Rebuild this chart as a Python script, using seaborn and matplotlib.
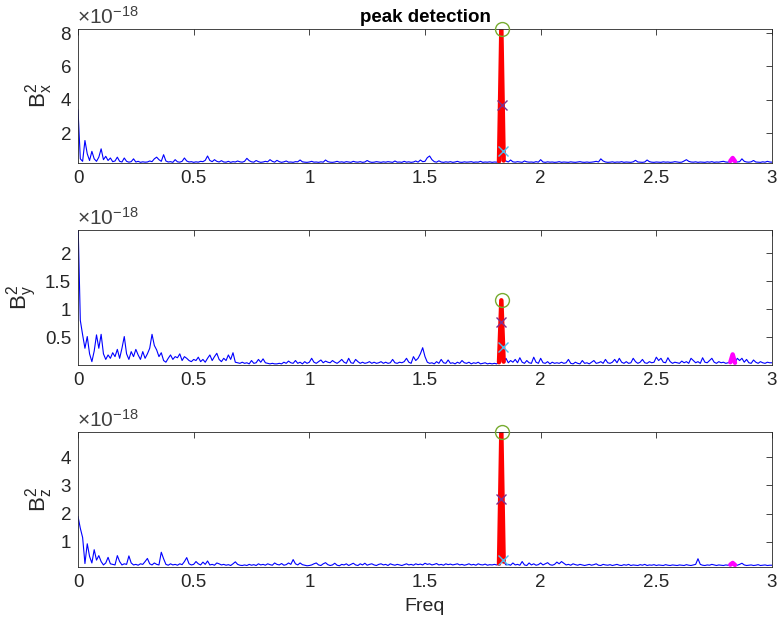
import numpy as np
import matplotlib
matplotlib.use("Agg")
import matplotlib.pyplot as plt
import seaborn as sns
from matplotlib.ticker import FuncFormatter

# ---------------- data (values in units of 1e-18) ----------------
freq = [round(i * 0.01, 2) for i in range(301)]

bx = [
    3.40, 0.45, 0.30, 1.55, 0.75, 0.35, 0.90, 0.45, 0.30, 0.55,
    1.05, 0.40, 0.60, 0.35, 0.50, 0.28, 0.32, 0.55, 0.30, 0.26,
    0.50, 0.30, 0.25, 0.28, 0.45, 0.26, 0.30, 0.24, 0.27, 0.25,
    0.26, 0.32, 0.28, 0.45, 0.55, 0.40, 0.30, 0.70, 0.32, 0.26,
    0.28, 0.24, 0.40, 0.27, 0.25, 0.30, 0.50, 0.32, 0.26, 0.28,
    0.24, 0.27, 0.25, 0.30, 0.28, 0.36, 0.62, 0.35, 0.28, 0.40,
    0.30, 0.26, 0.34, 0.26, 0.25, 0.30, 0.24, 0.28, 0.26, 0.32,
    0.27, 0.25, 0.30, 0.48, 0.34, 0.27, 0.25, 0.35, 0.28, 0.24,
    0.26, 0.30, 0.27, 0.40, 0.30, 0.25, 0.36, 0.28, 0.24, 0.27,
    0.32, 0.25, 0.26, 0.24, 0.28, 0.27, 0.38, 0.27, 0.25, 0.24,
    0.26, 0.30, 0.25, 0.26, 0.24, 0.27, 0.25, 0.38, 0.28, 0.25,
    0.24, 0.26, 0.30, 0.25, 0.27, 0.24, 0.28, 0.26, 0.24, 0.30,
    0.26, 0.25, 0.28, 0.24, 0.26, 0.35, 0.27, 0.24, 0.25, 0.28,
    0.26, 0.24, 0.27, 0.25, 0.28, 0.26, 0.24, 0.32, 0.25, 0.26,
    0.24, 0.30, 0.25, 0.27, 0.24, 0.26, 0.32, 0.25, 0.38, 0.28,
    0.30, 0.52, 0.62, 0.40, 0.28, 0.25, 0.33, 0.26, 0.24, 0.27,
    0.25, 0.28, 0.24, 0.26, 0.30, 0.25, 0.24, 0.27, 0.25, 0.26,
    0.28, 0.24, 0.26, 0.25, 0.30, 0.24, 0.26, 0.25, 0.27, 0.24,
    0.26, 0.25, 0.30, 8.24, 0.35, 0.32, 0.26, 0.38, 0.27, 0.25,
    0.28, 0.26, 0.24, 0.32, 0.27, 0.25, 0.26, 0.24, 0.28, 0.25,
    0.40, 0.26, 0.24, 0.27, 0.25, 0.26, 0.24, 0.25, 0.28, 0.24,
    0.26, 0.25, 0.24, 0.27, 0.25, 0.24, 0.26, 0.28, 0.25, 0.24,
    0.26, 0.24, 0.25, 0.27, 0.30, 0.26, 0.45, 0.32, 0.26, 0.24,
    0.25, 0.27, 0.24, 0.26, 0.25, 0.28, 0.24, 0.26, 0.25, 0.24,
    0.27, 0.36, 0.26, 0.25, 0.24, 0.26, 0.38, 0.28, 0.25, 0.24,
    0.26, 0.25, 0.24, 0.27, 0.25, 0.26, 0.24, 0.25, 0.28, 0.26,
    0.24, 0.25, 0.32, 0.40, 0.30, 0.26, 0.25, 0.27, 0.24, 0.26,
    0.25, 0.24, 0.27, 0.25, 0.28, 0.24, 0.26, 0.25, 0.28, 0.30,
    0.26, 0.25, 0.32, 0.50, 0.30, 0.26, 0.28, 0.45, 0.30, 0.26,
    0.25, 0.27, 0.35, 0.26, 0.25, 0.24, 0.27, 0.25, 0.30, 0.26,
    0.25,
]

by = [
    2.60, 0.80, 0.54, 0.30, 0.51, 0.20, 0.06, 0.25, 0.54, 0.30,
    0.55, 0.20, 0.10, 0.18, 0.12, 0.22, 0.15, 0.28, 0.12, 0.30,
    0.51, 0.20, 0.10, 0.24, 0.15, 0.28, 0.18, 0.10, 0.24, 0.12,
    0.20, 0.30, 0.55, 0.35, 0.27, 0.15, 0.22, 0.08, 0.05, 0.12,
    0.18, 0.10, 0.15, 0.13, 0.20, 0.08, 0.15, 0.12, 0.08, 0.06,
    0.10, 0.08, 0.14, 0.06, 0.10, 0.05, 0.12, 0.18, 0.08, 0.15,
    0.21, 0.10, 0.06, 0.12, 0.08, 0.18, 0.10, 0.22, 0.05, 0.04,
    0.03, 0.05, 0.03, 0.04, 0.02, 0.08, 0.03, 0.04, 0.10, 0.05,
    0.11, 0.04, 0.03, 0.02, 0.03, 0.02, 0.02, 0.03, 0.02, 0.05,
    0.03, 0.07, 0.04, 0.03, 0.08, 0.03, 0.05, 0.02, 0.06, 0.03,
    0.05, 0.12, 0.05, 0.03, 0.06, 0.09, 0.04, 0.07, 0.05, 0.04,
    0.08, 0.05, 0.03, 0.06, 0.10, 0.05, 0.03, 0.12, 0.04, 0.03,
    0.10, 0.06, 0.03, 0.05, 0.03, 0.04, 0.06, 0.03, 0.05, 0.03,
    0.04, 0.06, 0.03, 0.05, 0.03, 0.04, 0.10, 0.04, 0.03, 0.05,
    0.04, 0.06, 0.12, 0.05, 0.03, 0.15, 0.08, 0.12, 0.20, 0.31,
    0.15, 0.05, 0.03, 0.04, 0.02, 0.06, 0.03, 0.10, 0.04, 0.03,
    0.09, 0.03, 0.04, 0.02, 0.05, 0.03, 0.08, 0.04, 0.03, 0.05,
    0.02, 0.04, 0.03, 0.05, 0.02, 0.03, 0.04, 0.02, 0.03, 0.02,
    0.03, 0.02, 0.05, 1.16, 0.06, 0.12, 0.04, 0.08, 0.05, 0.10,
    0.04, 0.13, 0.05, 0.03, 0.08, 0.04, 0.03, 0.14, 0.05, 0.03,
    0.12, 0.04, 0.03, 0.06, 0.02, 0.05, 0.03, 0.04, 0.03, 0.05,
    0.03, 0.04, 0.10, 0.03, 0.02, 0.05, 0.03, 0.02, 0.08, 0.03,
    0.04, 0.02, 0.05, 0.08, 0.03, 0.04, 0.06, 0.03, 0.10, 0.04,
    0.03, 0.05, 0.10, 0.04, 0.12, 0.05, 0.03, 0.06, 0.03, 0.04,
    0.12, 0.06, 0.03, 0.05, 0.10, 0.04, 0.03, 0.06, 0.04, 0.05,
    0.14, 0.08, 0.12, 0.05, 0.04, 0.13, 0.06, 0.03, 0.05, 0.04,
    0.03, 0.07, 0.04, 0.06, 0.03, 0.12, 0.08, 0.04, 0.06, 0.03,
    0.13, 0.05, 0.04, 0.08, 0.12, 0.05, 0.03, 0.06, 0.04, 0.05,
    0.03, 0.04, 0.05, 0.19, 0.04, 0.12, 0.08, 0.12, 0.05, 0.10,
    0.04, 0.03, 0.09, 0.05, 0.03, 0.06, 0.04, 0.03, 0.05, 0.04,
    0.04,
]

bz = [
    1.90, 1.48, 1.15, 0.23, 0.93, 0.48, 0.25, 0.72, 0.35, 0.51,
    0.30, 0.18, 0.25, 0.45, 0.22, 0.20, 0.18, 0.51, 0.30, 0.18,
    0.22, 0.20, 0.50, 0.25, 0.18, 0.20, 0.17, 0.22, 0.20, 0.30,
    0.41, 0.22, 0.18, 0.25, 0.20, 0.18, 0.63, 0.40, 0.20, 0.17,
    0.22, 0.18, 0.20, 0.17, 0.22, 0.19, 0.30, 0.44, 0.22, 0.18,
    0.20, 0.30, 0.22, 0.18, 0.28, 0.20, 0.32, 0.18, 0.20, 0.17,
    0.25, 0.22, 0.18, 0.20, 0.17, 0.19, 0.16, 0.22, 0.29, 0.20,
    0.17, 0.16, 0.18, 0.16, 0.20, 0.17, 0.19, 0.16, 0.22, 0.18,
    0.20, 0.17, 0.22, 0.19, 0.17, 0.25, 0.20, 0.18, 0.23, 0.17,
    0.19, 0.25, 0.20, 0.37, 0.22, 0.18, 0.25, 0.19, 0.17, 0.15,
    0.16, 0.18, 0.22, 0.25, 0.18, 0.16, 0.22, 0.26, 0.19, 0.16,
    0.18, 0.24, 0.17, 0.15, 0.20, 0.18, 0.22, 0.16, 0.20, 0.24,
    0.18, 0.16, 0.22, 0.18, 0.24, 0.17, 0.20, 0.22, 0.18, 0.16,
    0.20, 0.22, 0.18, 0.20, 0.16, 0.22, 0.19, 0.17, 0.20, 0.18,
    0.16, 0.19, 0.22, 0.18, 0.20, 0.17, 0.22, 0.19, 0.21, 0.18,
    0.24, 0.20, 0.22, 0.18, 0.20, 0.23, 0.18, 0.20, 0.17, 0.22,
    0.19, 0.21, 0.18, 0.20, 0.22, 0.18, 0.20, 0.17, 0.19, 0.22,
    0.18, 0.20, 0.17, 0.22, 0.19, 0.18, 0.21, 0.17, 0.19, 0.18,
    0.20, 0.18, 0.22, 4.89, 0.30, 0.18, 0.20, 0.17, 0.25, 0.18,
    0.20, 0.17, 0.30, 0.18, 0.16, 0.25, 0.18, 0.22, 0.17, 0.19,
    0.25, 0.18, 0.22, 0.26, 0.19, 0.17, 0.20, 0.28, 0.22, 0.30,
    0.24, 0.18, 0.20, 0.17, 0.22, 0.19, 0.17, 0.20, 0.18, 0.16,
    0.18, 0.20, 0.17, 0.19, 0.22, 0.17, 0.16, 0.20, 0.18, 0.17,
    0.19, 0.16, 0.18, 0.20, 0.17, 0.16, 0.19, 0.17, 0.20, 0.16,
    0.18, 0.17, 0.16, 0.19, 0.17, 0.20, 0.16, 0.18, 0.17, 0.19,
    0.16, 0.18, 0.17, 0.16, 0.19, 0.17, 0.16, 0.18, 0.17, 0.16,
    0.18, 0.17, 0.16, 0.19, 0.17, 0.16, 0.18, 0.20, 0.40, 0.20,
    0.17, 0.16, 0.18, 0.17, 0.20, 0.18, 0.16, 0.18, 0.17, 0.16,
    0.18, 0.17, 0.19, 0.25, 0.18, 0.17, 0.20, 0.24, 0.18, 0.16,
    0.17, 0.18, 0.16, 0.17, 0.19, 0.16, 0.17, 0.18, 0.16, 0.17,
    0.17,
]

series = [bx, by, bz]
ylabels = [r"$\mathregular{B_x^2}$", r"$\mathregular{B_y^2}$", r"$\mathregular{B_z^2}$"]
ylims = [(0.20, 8.24), (0.0, 2.42), (0.107, 4.89)]
yticks = [[2, 4, 6, 8], [0.5, 1, 1.5, 2], [1, 2, 3, 4]]
xticks = [0, 0.5, 1, 1.5, 2, 2.5, 3]

# peak-detection markers
peak_x = [1.832, 1.832, 1.832]
peak_val = [8.24, 1.16, 4.89]
mid_x = [1.831, 1.830, 1.830]
mid_val = [3.68, 0.77, 2.50]
low_x = [1.836, 1.836, 1.836]
low_val = [0.93, 0.33, 0.35]
peak_idx = (182, 185)      # red segment (1.82 .. 1.84)
harm_idx = (282, 285)      # magenta segment (2.82 .. 2.84)

# ---------------- figure ----------------
sns.set_style("white")
plt.rcParams["font.family"] = ["Liberation Sans", "DejaVu Sans"]
plt.rcParams["mathtext.fontset"] = "custom"
plt.rcParams["mathtext.rm"] = "Liberation Sans"

fig = plt.figure(figsize=(7.77, 6.21), dpi=100)
left, width = 78 / 777, 694 / 777
tops = [29, 230, 432]
bots = [163, 365, 567]
txtc = "#262626"

for i in range(3):
    b = 1 - bots[i] / 621
    h = (bots[i] - tops[i]) / 621
    ax = fig.add_axes([left, b, width, h])
    y = series[i]
    sns.lineplot(x=freq, y=y, ax=ax, color="#0000ff", lw=0.8, estimator=None,
                 sort=False)
    a, c = peak_idx
    sns.lineplot(x=freq[a:c], y=y[a:c], ax=ax, color="#ff0000", lw=3.2,
                 estimator=None, sort=False)
    a, c = harm_idx
    sns.lineplot(x=freq[a:c], y=y[a:c], ax=ax, color="#ff00ff", lw=3.2,
                 estimator=None, sort=False)
    ax.plot(peak_x[i], peak_val[i], "o", mfc="none", mec="#77ac30", ms=10,
            mew=1.0, clip_on=False, zorder=5)
    ax.plot(mid_x[i], mid_val[i], "x", color="#7e2f8e", ms=7, mew=1.0, zorder=5)
    ax.plot(low_x[i], low_val[i], "x", color="#4dbeee", ms=7, mew=1.0, zorder=5)

    ax.set_xlim(0, 3)
    ax.set_ylim(*ylims[i])
    ax.set_xticks(xticks)
    ax.set_yticks(yticks[i])
    ax.xaxis.set_major_formatter(FuncFormatter(lambda v, p: "%g" % v))
    ax.yaxis.set_major_formatter(FuncFormatter(lambda v, p: "%g" % v))
    ax.tick_params(direction="in", length=4, width=0.6, top=True, right=True,
                   labelsize=13.5, colors=txtc, pad=5)
    for s in ax.spines.values():
        s.set_color(txtc)
        s.set_linewidth(0.6)
    ax.set_xlabel("")
    ax.set_ylabel(ylabels[i], fontsize=16, color=txtc, labelpad=4)
    ax.text(-0.002, 1.01, r"$\mathregular{\times10^{-18}}$", transform=ax.transAxes,
            fontsize=15, color="#404040", ha="left", va="bottom")
    if i == 0:
        ax.set_title("peak detection", fontsize=13.5, fontweight="bold",
                     color="black", pad=5)
    if i == 2:
        ax.set_xlabel("Freq", fontsize=14, color=txtc, labelpad=5)

fig.savefig("out.png", dpi=100)
